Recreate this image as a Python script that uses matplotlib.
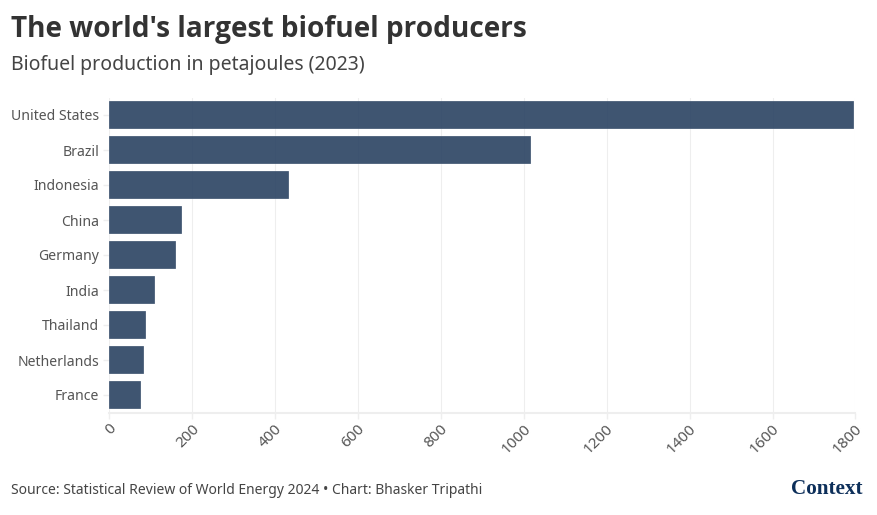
import matplotlib
matplotlib.use("Agg")
import matplotlib.pyplot as plt
from matplotlib.transforms import ScaledTranslation
import numpy as np

# values (petajoules, 2023)
countries = ["United States", "Brazil", "Indonesia", "China", "Germany",
             "India", "Thailand", "Netherlands", "France"]
production = [1797, 1017, 433, 175, 160, 110, 88, 83, 76]
xticks = [0, 200, 400, 600, 800, 1000, 1200, 1400, 1600, 1800]

W, H = 878, 515
BAR = "#2a4262"
GRID = "#eeeeee"
TEXT = "#555555"

plt.rcParams["font.family"] = ["Noto Sans", "DejaVu Sans"]

fig = plt.figure(figsize=(W / 100, H / 100), dpi=100)
# plot area in pixels: x 109.5-855.5, y 97.5-412.5
ax = fig.add_axes([109.5 / W, 1 - 412.5 / H, 746 / W, 315 / H])

y = np.arange(len(countries))
ax.barh(y, production, height=0.8, color=BAR, alpha=0.9,
        edgecolor="white", linewidth=0.2, zorder=2)
ax.set_xlim(0, 1800)
ax.set_ylim(len(countries) - 0.5, -0.5)

ax.set_yticks(y)
ax.set_yticklabels(countries, fontsize=10.1, color=TEXT)
ax.set_xticks(xticks)
ax.set_xticklabels(xticks, fontsize=11, color=TEXT, rotation=45, ha="right",
                   va="center", rotation_mode="anchor")
ax.tick_params(axis="y", length=4.3, width=1, color=GRID, pad=3.2)
ax.tick_params(axis="x", length=4.3, width=1, color=GRID, pad=6)
# nudge the rotated labels so they end just right of the tick
shift = ScaledTranslation(4.5 / 100, 0, fig.dpi_scale_trans)
for lab in ax.get_xticklabels():
    lab.set_transform(lab.get_transform() + shift)
ax.grid(axis="x", color=GRID, lw=0.8, zorder=1)
ax.set_axisbelow(True)

for side in ["top", "right", "left"]:
    ax.spines[side].set_visible(False)
ax.spines["bottom"].set_color(GRID)
ax.spines["bottom"].set_linewidth(1.5)

fig.text(11 / W, 1 - 29.5 / H, "The world's largest biofuel producers",
         family="Open Sans", fontsize=20.15, fontweight="bold", color="#333333", va="center")
fig.text(11 / W, 1 - 65 / H, "Biofuel production in petajoules (2023)",
         fontsize=14, color="#444444", va="center")
fig.text(11 / W, 1 - 491 / H,
         "Source: Statistical Review of World Energy 2024 • Chart: Bhasker Tripathi",
         fontsize=10.03, color="#444444", va="center")
fig.text(862.5 / W, 1 - 489 / H, "Context", family="Liberation Serif",
         fontsize=15.2, fontweight="bold", color="#0d2f5a", ha="right", va="center")

fig.savefig("out.png", dpi=100)
